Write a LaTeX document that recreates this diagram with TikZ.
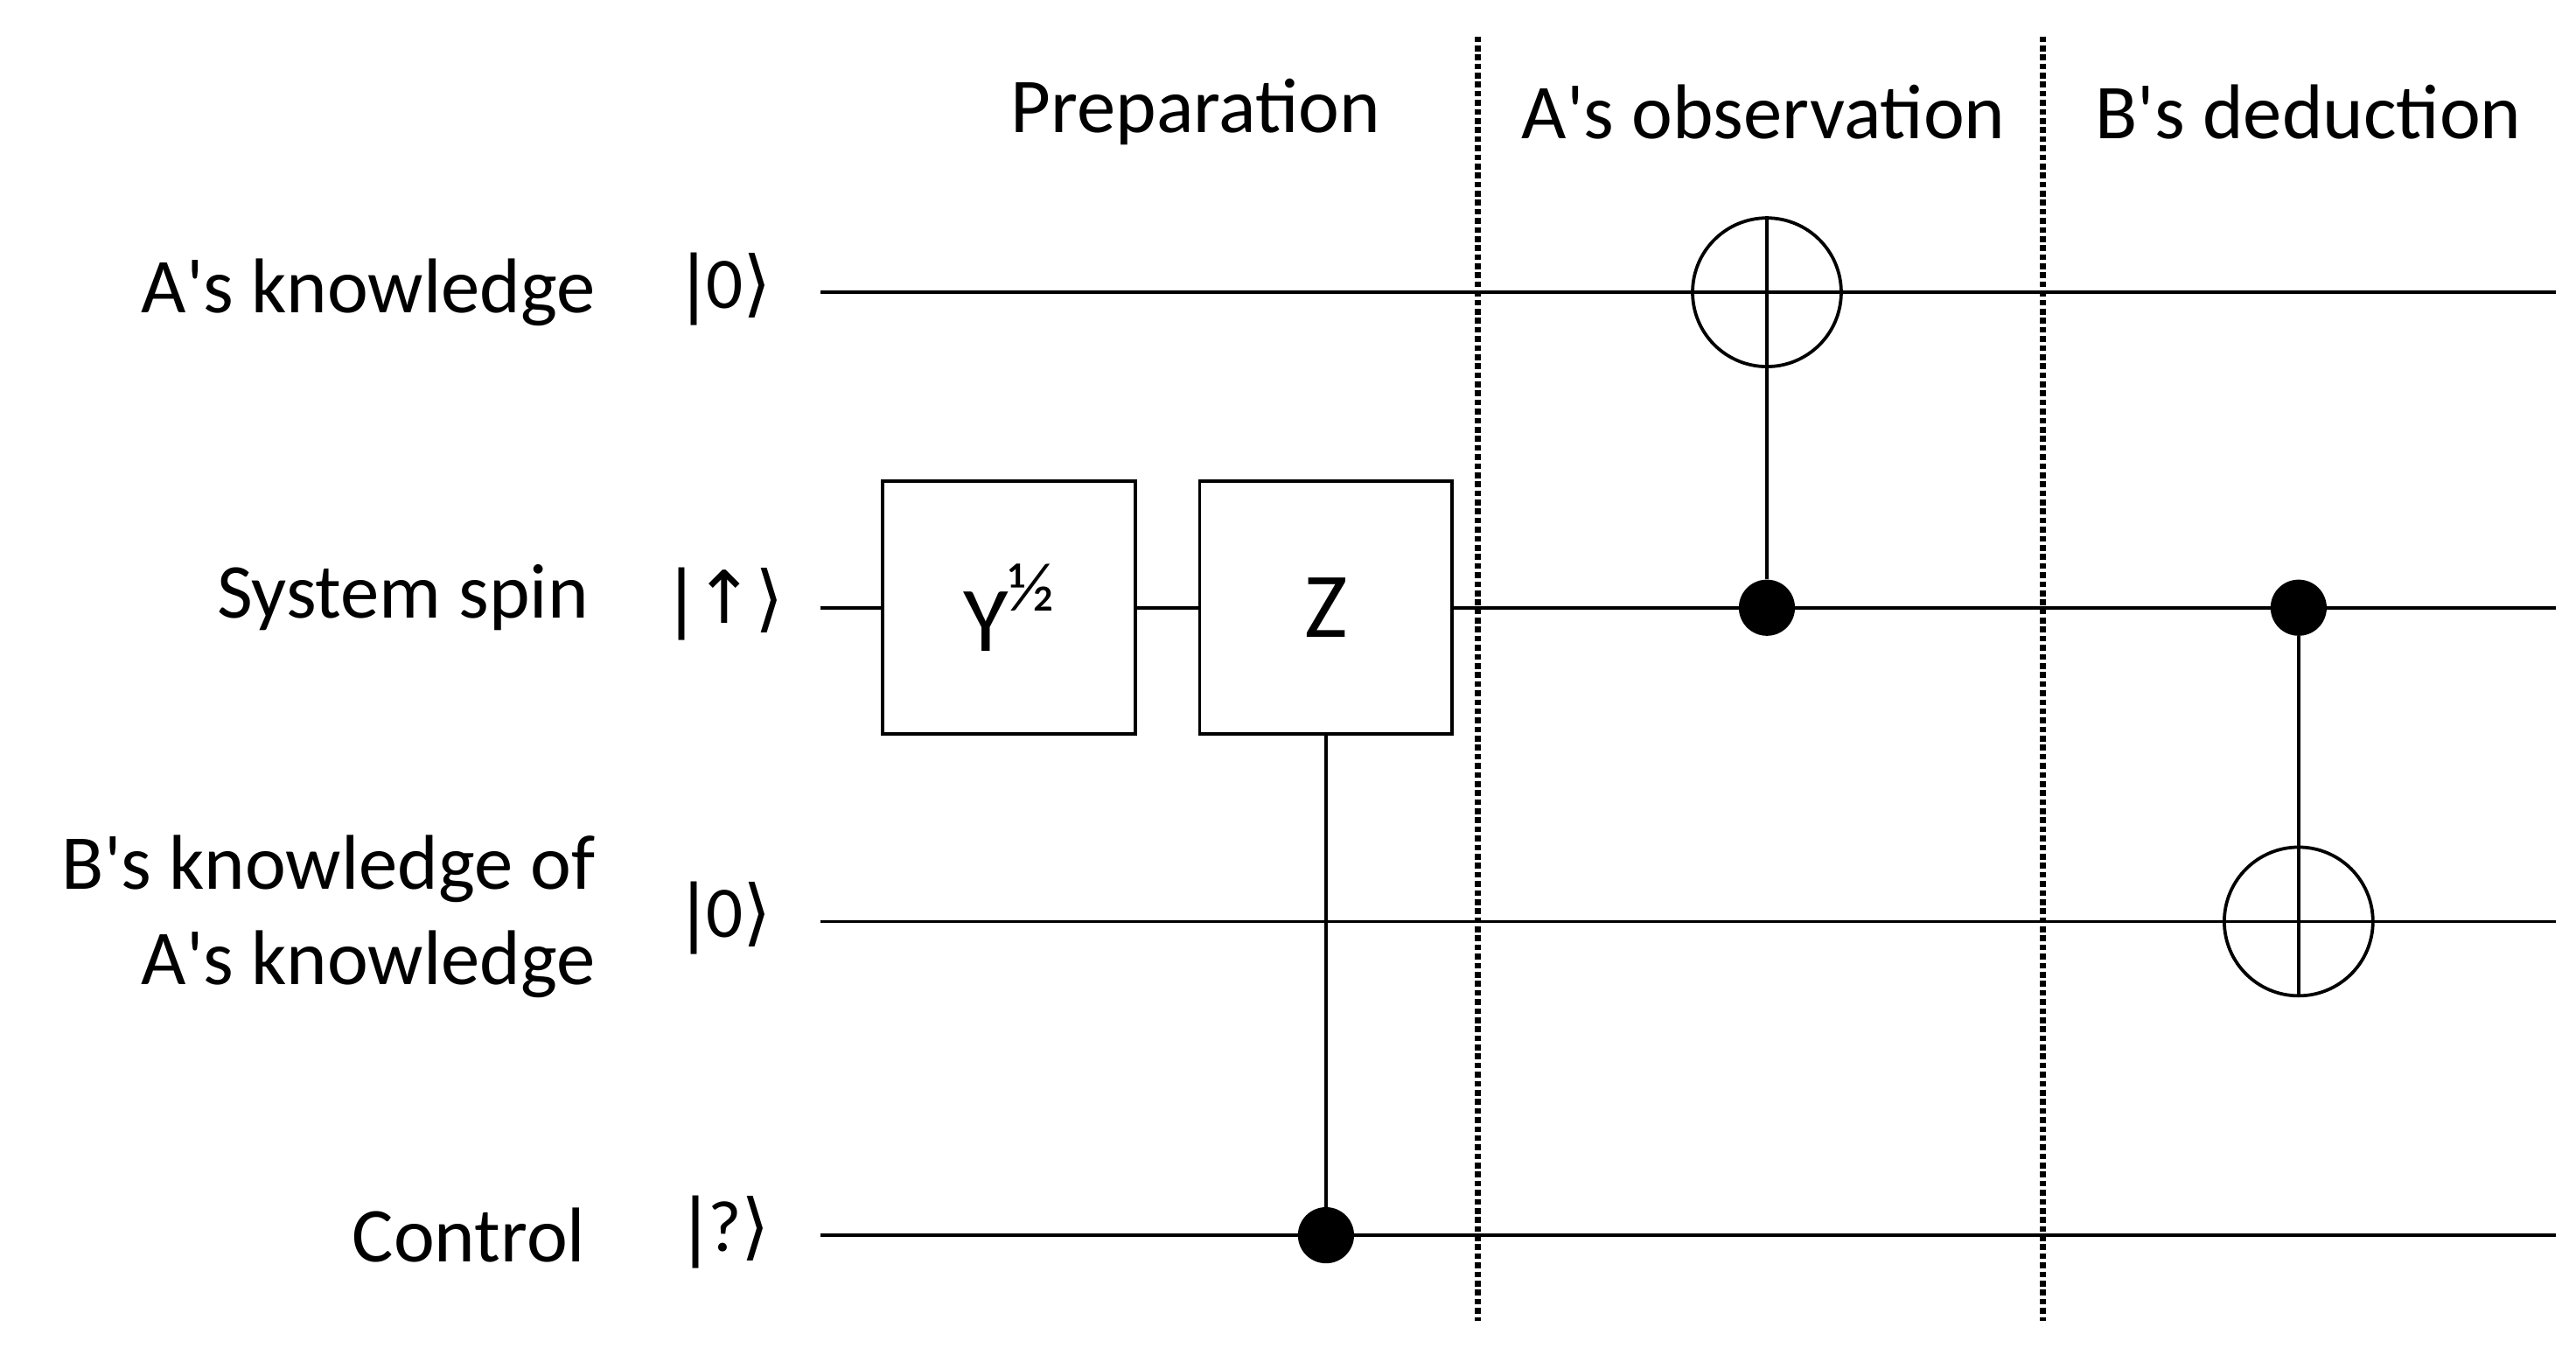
\documentclass[tikz,border=0pt]{standalone}
\usepackage{fontspec}
\setmainfont{Carlito}
\newfontfamily\djv{DejaVu Sans}
\newcommand\ap{\textquotesingle}
\newcommand\kt[1]{{\djv|}#1{\djv\char"27E9}}
\begin{document}
\begin{tikzpicture}[x=1pt,y=-1pt,
  wire/.style={line width=2pt},
  gate/.style={draw,line width=2pt,minimum width=153pt,minimum height=153pt,inner sep=0pt,font=\fontsize{56}{60}\selectfont},
  lab/.style={anchor=east,font=\fontsize{47}{58}\selectfont,align=right},
  ket/.style={font=\fontsize{44}{50}\selectfont},
  head/.style={font=\fontsize{47}{55}\selectfont},
  ctrl/.style={circle,fill=black,minimum size=34pt,inner sep=0pt},
  targ/.style={circle,draw,line width=2pt,minimum size=90pt,inner sep=0pt},
  sep/.style={line width=3.5pt,dotted}]
\useasboundingbox (0,0) rectangle (1560,816);
\coordinate (a0) at (497,177); \coordinate (a1) at (1548,177);
\coordinate (s0) at (497,368); \coordinate (s1) at (1548,368);
\coordinate (b0) at (497,558); \coordinate (b1) at (1548,558);
\coordinate (c0) at (497,748); \coordinate (c1) at (1548,748);
\node[lab] (la) at (364,177) {A\ap s knowledge};
\node[lab] (ls) at (360,362) {System spin};
\node[lab] (lb) at (364,555) {B\ap s knowledge of\\A\ap s knowledge};
\node[lab] (lc) at (358,748) {Control};
\node[ket] (ka) at (440,175) {\kt{0}};
\node[ket] (ks) at (440,366) {\kt{{\djv\char"2191}}};
\node[ket] (kb) at (440,556) {\kt{0}};
\node[ket] (kc) at (440,746) {\kt{?}};
\node[head] (h1) at (724,68) {Preparation};
\node[head] (h2) at (1068,68) {A\ap s observation};
\node[head] (h3) at (1398,68) {B\ap s deduction};
\draw[wire] (a0) -- (a1);
\draw[wire] (s0) -- (s1);
\draw[wire] (b0) -- (b1);
\draw[wire] (c0) -- (c1);
\node[gate,fill=white] (y) at (611,368) {\raisebox{-10pt}{Y}\raisebox{14pt}{\fontsize{42}{42}\selectfont ½}};
\node[gate,fill=white] (z) at (803,368) {Z};
\node[ctrl] (zc) at (803,748) {};
\draw[wire] (z.south) -- (zc);
\node[targ] (t1) at (1070,177) {};
\node[ctrl] (c1d) at (1070,368) {};
\draw[wire] (t1.north) -- (c1d);
\node[ctrl] (c2d) at (1392,368) {};
\node[targ] (t2) at (1392,558) {};
\draw[wire] (c2d) -- (t2.south);
\coordinate (d1t) at (895,22); \coordinate (d1b) at (895,800);
\coordinate (d2t) at (1237,22); \coordinate (d2b) at (1237,800);
\draw[sep] (d1t) -- (d1b);
\draw[sep] (d2t) -- (d2b);
\end{tikzpicture}
\end{document}
